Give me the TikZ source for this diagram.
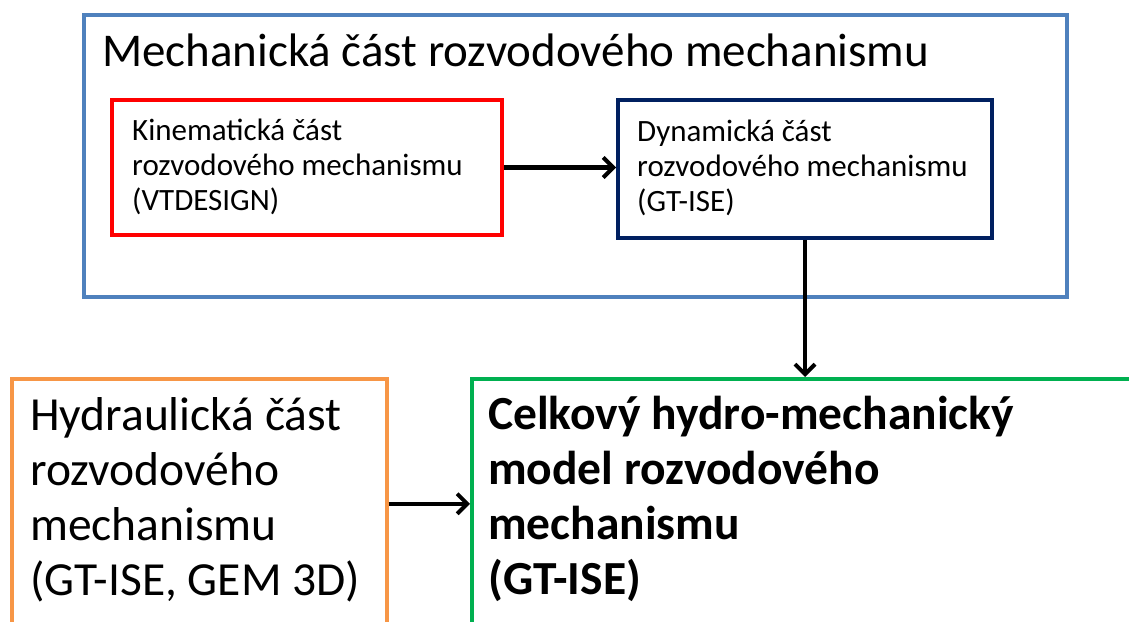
\documentclass[tikz,border=0pt]{standalone}
\usepackage{fontspec}
\setmainfont{Carlito}
\usetikzlibrary{arrows.meta}
\definecolor{offblue}{HTML}{4F81BD}
\definecolor{offred}{HTML}{FF0000}
\definecolor{offnavy}{HTML}{002060}
\definecolor{offorange}{HTML}{F79646}
\definecolor{offgreen}{HTML}{00B050}
\newcommand\txtlines[1]{\begin{tabular}[t]{@{}l@{}}#1\end{tabular}}
\tikzset{
  box/.style={rectangle, anchor=north west, inner sep=0pt},
  lbl/.style={anchor=base west, inner sep=0pt},
  smalltext/.style={font=\fontsize{31}{35}\selectfont},
  bigtext/.style={font=\fontsize{47.5}{55}\selectfont},
  conn/.style={line width=4.5pt, -{Straight Barb[length=10pt,width=20pt,line width=4pt]}},
}
\begin{document}
\begin{tikzpicture}[x=1pt,y=-1pt]
\useasboundingbox (0,0) rectangle (1129,621);
\fill[white] (0,0) rectangle (1129,621);
% boxes
\node[box, draw=offblue, line width=3.5pt, minimum width=983pt, minimum height=282pt] (mech) at (82,13) {};
\node[box, draw=offred, line width=4pt, minimum width=390pt, minimum height=135pt] (kin) at (110,98) {};
\node[box, draw=offnavy, line width=4pt, minimum width=374pt, minimum height=138pt] (dyn) at (616,98) {};
\node[box, draw=offorange, line width=3.5pt, minimum width=375pt, minimum height=250pt] (hyd) at (10,377) {};
\node[box, draw=offgreen, line width=3.5pt, minimum width=700pt, minimum height=250pt] (cel) at (470,377) {};
% texts
\node[lbl, font=\fontsize{47}{55}\selectfont] (title) at (102,66) {Mechanická část rozvodového mechanismu};
\node[lbl, smalltext] (kintxt) at (132,140) {\txtlines{Kinematická část\\rozvodového mechanismu\\(VTDESIGN)}};
\node[lbl, smalltext] (dyntxt) at (637,141) {\txtlines{Dynamická část\\rozvodového mechanismu\\(GT-ISE)}};
\node[lbl, bigtext] (hydtxt) at (30,430) {\txtlines{Hydraulická část\\rozvodového\\mechanismu\\(GT-ISE, GEM 3D)}};
\node[lbl, bigtext] (celtxt) at (488,429) {\bfseries\txtlines{Celkový hydro-mechanický\\model rozvodového\\mechanismu\\(GT-ISE)}};
% connectors
\draw[conn] (kin.east) -- (kin.east -| dyn.west);
\draw[conn] (dyn.south) -- (dyn.south |- cel.north);
\draw[conn] (hyd.east) -- (hyd.east -| cel.west);
\end{tikzpicture}
\end{document}
